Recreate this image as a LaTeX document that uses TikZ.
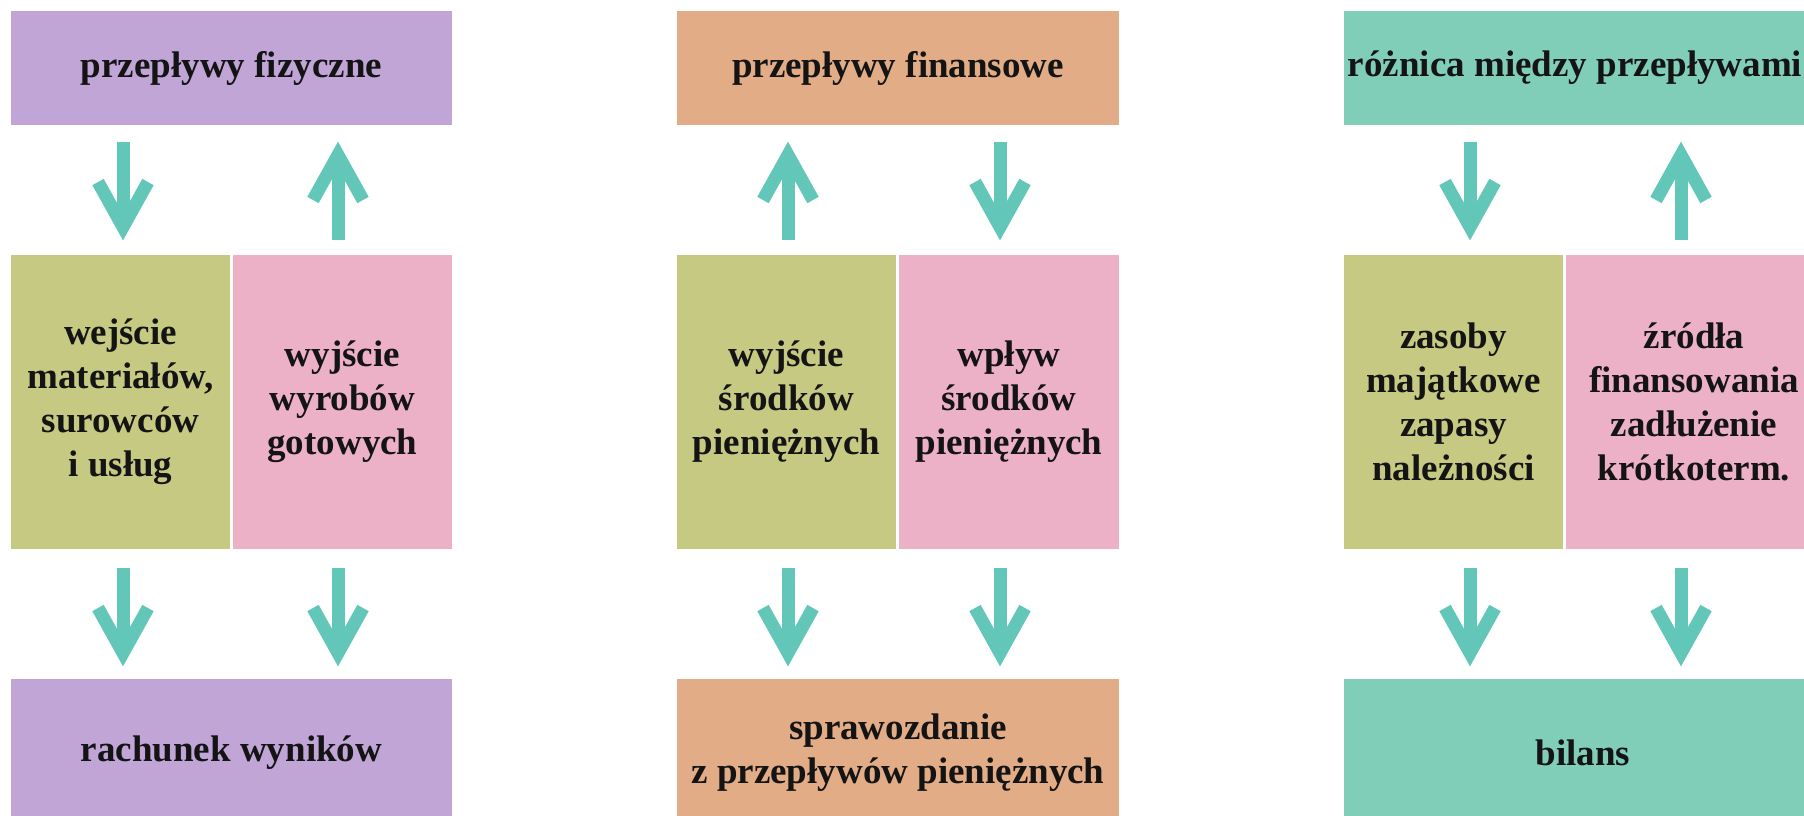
\documentclass[tikz,border=0pt]{standalone}
\usepackage{fontspec}
\setmainfont{Liberation Serif}
\definecolor{cpurple}{HTML}{C0A5D6}
\definecolor{corange}{HTML}{E2AC86}
\definecolor{cteal}{HTML}{80CDB8}
\definecolor{colive}{HTML}{C6C982}
\definecolor{cpink}{HTML}{ECB1C7}
\definecolor{carrow}{HTML}{62C6B9}
\begin{document}
\begin{tikzpicture}[x=0.5pt,y=-0.5pt,
  box/.style={fill=#1, inner sep=0pt, outer sep=0pt, align=center,
    font=\bfseries\fontsize{18.5}{22}\selectfont, text=black!92},
  topbox/.style={box=#1, minimum height=57pt},
  midbox/.style={box=#1, minimum height=147pt, minimum width=109.5pt},
  botbox/.style={box=#1, minimum height=74pt},
  arrline/.style={draw=carrow, line width=6.5pt},
  downarr/.pic={\draw[arrline] (0,0) -- (0,85);
                \draw[arrline, line join=miter] (-25,40) -- (0,85) -- (25,40);},
  uparr/.pic={\draw[arrline] (0,98) -- (0,13);
              \draw[arrline, line join=miter] (-25,58) -- (0,13) -- (25,58);}
]
\useasboundingbox (0,0) rectangle (1804,815);
\clip (0,0) rectangle (1804,815);

% column 1
\node[topbox=cpurple, minimum width=220.5pt] (t1) at (231.5,68) {przepływy fizyczne};
\node[midbox=colive] (g1) at (120.5,402) {wejście\\materiałów,\\surowców\\i usług};
\node[midbox=cpink] (p1) at (342.5,402) {wyjście\\wyrobów\\gotowych};
\node[botbox=cpurple, minimum width=220.5pt] (b1) at (231.5,753) {rachunek wyników};

% column 2
\node[topbox=corange, minimum width=221pt] (t2) at (898,68) {przepływy finansowe};
\node[midbox=colive] (g2) at (786.5,402) {wyjście\\środków\\pieniężnych};
\node[midbox=cpink, minimum width=110pt] (p2) at (1009,402) {wpływ\\środków\\pieniężnych};
\node[botbox=corange, minimum width=221pt] (b2) at (898,753) {sprawozdanie\\z przepływów pieniężnych};

% column 3
\node[topbox=cteal, minimum width=239pt] (t3) at (1583,68) {\hspace*{-8pt}różnica między przepływami};
\node[midbox=colive] (g3) at (1453.5,402) {zasoby\\majątkowe\\zapasy\\należności};
\node[midbox=cpink, minimum width=128pt] (p3) at (1694,402) {źródła\\finansowania\\zadłużenie\\krótkoterm.};
\node[botbox=cteal, minimum width=239pt] (b3) at (1583,753) {bilans};

% arrows, upper row
\coordinate (a11) at (123,142);
\coordinate (a12) at (338,142);
\coordinate (a21) at (788,142);
\coordinate (a22) at (1000,142);
\coordinate (a31) at (1470,142);
\coordinate (a32) at (1681,142);
\pic at (a11) {downarr};
\pic at (a12) {uparr};
\pic at (a21) {uparr};
\pic at (a22) {downarr};
\pic at (a31) {downarr};
\pic at (a32) {uparr};

% arrows, lower row
\coordinate (c11) at (123,568);
\coordinate (c12) at (338,568);
\coordinate (c21) at (788,568);
\coordinate (c22) at (1000,568);
\coordinate (c31) at (1470,568);
\coordinate (c32) at (1681,568);
\pic at (c11) {downarr};
\pic at (c12) {downarr};
\pic at (c21) {downarr};
\pic at (c22) {downarr};
\pic at (c31) {downarr};
\pic at (c32) {downarr};
\end{tikzpicture}
\end{document}
